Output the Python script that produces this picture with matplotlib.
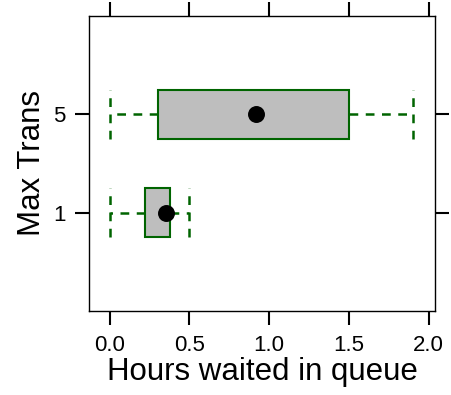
import matplotlib
matplotlib.use("Agg")
import matplotlib.pyplot as plt

plt.rcParams['font.family'] = ['Liberation Sans', 'DejaVu Sans']

levels = ['1', '5']
whisker_lo = [0.0, 0.0]
q1 = [0.22, 0.30]
median = [0.35, 0.915]
q3 = [0.38, 1.50]
whisker_hi = [0.50, 1.905]
xticks = [0.0, 0.5, 1.0, 1.5, 2.0]

green = '#006400'
stats = []
for i, lab in enumerate(levels):
    stats.append(dict(label=lab, whislo=whisker_lo[i], q1=q1[i], med=median[i],
                      q3=q3[i], whishi=whisker_hi[i], fliers=[]))

fig = plt.figure(figsize=(4.51, 3.95), dpi=100)
ax = fig.add_axes([89 / 451, 1 - 311 / 395, (435 - 89) / 451, (311 - 16) / 395])
pos = [1, 2]
ax.bxp(stats, positions=pos, widths=0.5, capwidths=0.5, orientation='horizontal',
       patch_artist=True, showfliers=False,
       boxprops=dict(facecolor='#bebebe', edgecolor=green, linewidth=1.5),
       whiskerprops=dict(color=green, linestyle=(0, (3.5, 3)), linewidth=1.8),
       capprops=dict(color=green, linestyle=(0, (3.5, 3)), linewidth=1.8),
       medianprops=dict(linestyle='none'))
ax.scatter(median, pos, s=125, color='black', zorder=5)

ax.set_xlim(-0.13, 2.04)
ax.set_ylim(0.0, 3.0)
ax.set_xticks(xticks)
ax.set_xticklabels(['%.1f' % t for t in xticks])
ax.set_yticks(pos)
ax.set_yticklabels(levels)
ax.tick_params(axis='both', direction='out', length=10, width=1.5, labelsize=16,
               top=True, right=True, labeltop=False, labelright=False, pad=7)
for s in ax.spines.values():
    s.set_linewidth(1.0)
ax.set_xlabel('Hours waited in queue', fontsize=22.5, labelpad=1)
ax.set_ylabel('Max Trans', fontsize=22.5, labelpad=4)

fig.savefig('out.png', dpi=100)
